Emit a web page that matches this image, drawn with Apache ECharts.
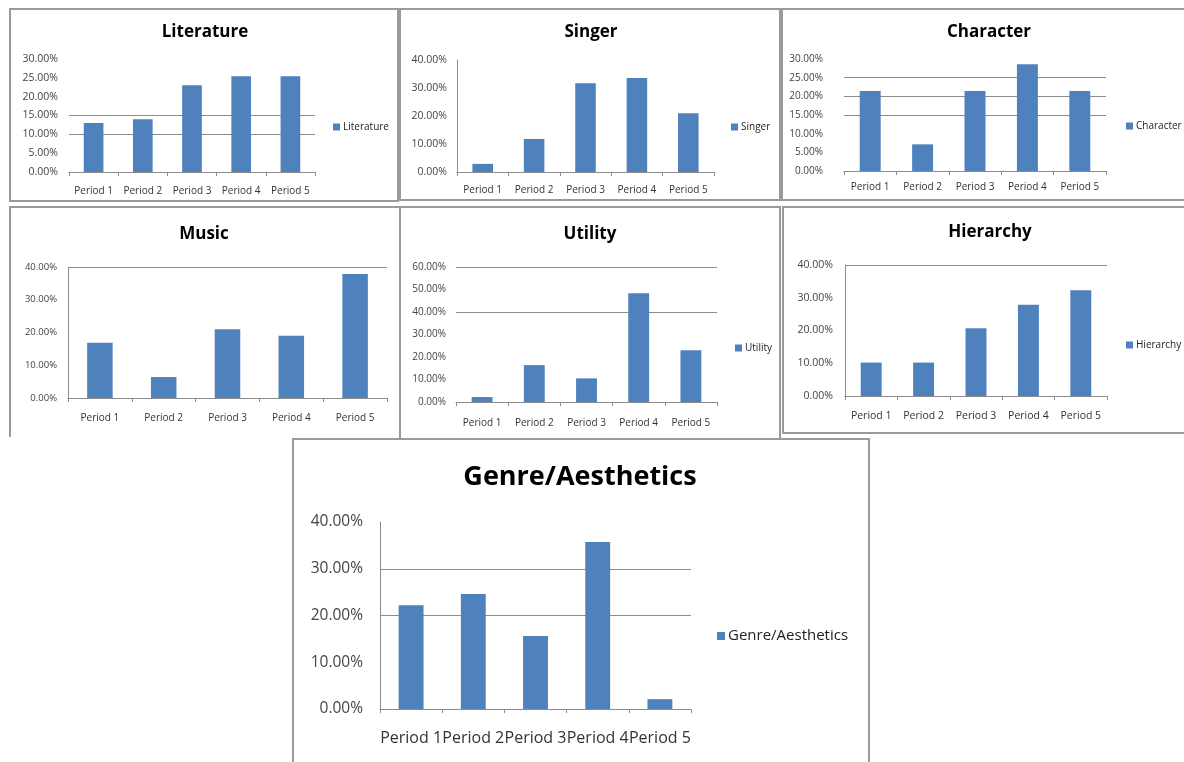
<!DOCTYPE html>
<html>
<head>
<meta charset="utf-8">
<script src="https://cdn.jsdelivr.net/npm/echarts@6/dist/echarts.min.js"></script>
<style>
html,body{margin:0;padding:0;background:#fff;}
#c{width:1184px;height:762px;}
</style>
</head>
<body>
<div id="c"></div>
<script>
// ---- data ----
const periods = ['Period 1', 'Period 2', 'Period 3', 'Period 4', 'Period 5'];
const panelNames = ['Literature', 'Singer', 'Character', 'Music', 'Utility', 'Hierarchy', 'Genre/Aesthetics'];
const literature = [13.0, 14.0, 23.0, 25.4, 25.4];
const singer = [2.9, 11.8, 31.7, 33.6, 21.0];
const character = [21.43, 7.14, 21.43, 28.57, 21.43];
const music = [16.9, 6.4, 21.0, 19.0, 37.9];
const utility = [2.2, 16.4, 10.5, 48.3, 23.0];
const hierarchy = [10.2, 10.2, 20.7, 27.9, 32.3];
const genre = [22.2, 24.6, 15.6, 35.7, 2.1];
const seriesValues = [literature, singer, character, music, utility, hierarchy, genre];
// y-axis tick settings (max, interval)
const axisMax = [30, 40, 30, 40, 60, 40, 40];
const axisInterval = [5, 10, 5, 10, 10, 10, 10];

// ---- layout / style ----
const FONT = 'Open Sans';
const BLUE = '#4F81BD';
const GRIDC = '#8c8c8c';
const T = 'rgba(0,0,0,0)';
const layout = [
  {grid:{left:69,top:59,width:246,height:113}, title:[205,32,17], legend:[333,127,10], yFont:10.5, xFont:10, xMargin:14, yMargin:11, yLine:false, split:[T,T,GRIDC,GRIDC,T,T,T]},
  {grid:{left:457,top:60,width:257,height:112}, title:[591,32,17], legend:[731,127,10], yFont:10.5, xFont:10, xMargin:13, yMargin:10, yLine:true, split:null},
  {grid:{left:844,top:59,width:262,height:112}, title:[989,32,17], legend:[1126,126,10], yFont:10, xFont:10, xMargin:11, yMargin:21, yLine:false, split:[T,T,T,GRIDC,GRIDC,GRIDC,T]},
  {grid:{left:68,top:267,width:319,height:131}, title:[204,234,17], legend:null, yFont:9.5, xFont:10, xMargin:15, yMargin:11, yLine:true, split:[T,T,T,T,GRIDC]},
  {grid:{left:456,top:267,width:261,height:135}, title:[590,234,17], legend:[735,348,10], yFont:10, xFont:10, xMargin:16, yMargin:10, yLine:false, split:[T,T,T,T,GRIDC,T,GRIDC]},
  {grid:{left:845,top:265,width:262,height:131}, title:[990,232,17], legend:[1126,345,10], yFont:10.5, xFont:10.5, xMargin:15, yMargin:12, yLine:true, split:[T,T,T,T,GRIDC]},
  {grid:{left:380,top:522,width:311,height:187}, title:[580,477,27], legend:[717,636,15], yFont:15.5, xFont:16, xMargin:21, yMargin:17, yLine:true, split:[T,T,GRIDC,GRIDC,T]}
];
const panels = [
  {type:'rect', shape:{x:10,y:9,width:388,height:192}},
  {type:'rect', shape:{x:400,y:9,width:380,height:191}},
  {type:'rect', shape:{x:782,y:9,width:410,height:191}},
  {type:'polyline', shape:{points:[[10,437],[10,207],[400,207]]}},
  {type:'rect', shape:{x:400,y:207,width:380,height:232}},
  {type:'rect', shape:{x:783,y:207,width:410,height:226}},
  {type:'rect', shape:{x:293,y:439,width:576,height:330}}
];

const grids = [], xAxes = [], yAxes = [], series = [], titles = [], legends = [];
panelNames.forEach((name, i) => {
  const L = layout[i];
  grids.push(Object.assign({containLabel:false}, L.grid));
  xAxes.push({
    type:'category', gridIndex:i, data:periods,
    axisLine:{show:true, lineStyle:{color:GRIDC, width:1}},
    axisTick:{show:true, alignWithLabel:false, length:4, lineStyle:{color:GRIDC}},
    axisLabel:{fontFamily:FONT, fontSize:L.xFont, color:'#333', margin:L.xMargin, interval:0},
    splitLine:{show:false}
  });
  yAxes.push({
    type:'value', gridIndex:i, min:0, max:axisMax[i], interval:axisInterval[i],
    axisLine:{show:L.yLine, lineStyle:{color:GRIDC, width:1}},
    axisTick:{show:false},
    axisLabel:{fontFamily:FONT, fontSize:L.yFont, color:'#444', margin:L.yMargin,
      formatter: v => v.toFixed(2) + '%'},
    splitLine: L.split ? {show:true, showMinLine:true, showMaxLine:true, lineStyle:{color:L.split, width:1}} : {show:false}
  });
  series.push({
    type:'bar', name:name, xAxisIndex:i, yAxisIndex:i, data:seriesValues[i],
    barCategoryGap:'60%', itemStyle:{color:BLUE}, animation:false
  });
  const [cx, cy, fs] = L.title;
  const lh = fs + 6;
  titles.push({
    text:name, left:cx, top:cy - lh/2, textAlign:'center', padding:0,
    textStyle:{fontFamily:FONT, fontSize:fs, fontWeight:'bold', color:'#000', lineHeight:lh}
  });
  if (L.legend) {
    const [lx, ly, lf] = L.legend;
    const ih = lf >= 14 ? 8 : 7;
    legends.push({
      data:[name], left:lx, top:ly - 9, padding:0, orient:'vertical',
      itemWidth:ih, itemHeight:ih, icon:'rect', selectedMode:false,
      textStyle:{fontFamily:FONT, fontSize:lf, color:'#222', lineHeight:18, padding:[0,0,0,-2]}
    });
  }
});

const graphics = panels.map(p => Object.assign({}, p, {
  silent:true, z:-1,
  style:{stroke:'#9a9a9a', lineWidth:2, fill:null}
}));

const chart = echarts.init(document.getElementById('c'), null, {renderer:'canvas'});
chart.setOption({
  backgroundColor:'#fff',
  animation:false,
  title:titles,
  legend:legends,
  grid:grids,
  xAxis:xAxes,
  yAxis:yAxes,
  series:series,
  graphic:graphics
});
</script>
</body>
</html>
